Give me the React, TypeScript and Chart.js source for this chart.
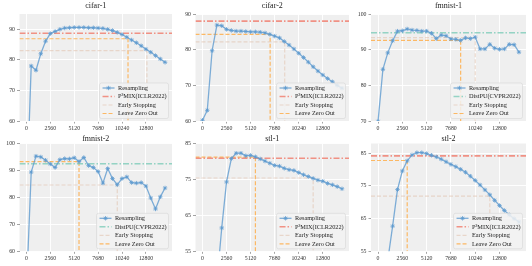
import React, { useEffect, useRef } from "react";
import { Chart, registerables } from "chart.js";
Chart.register(...registerables);

// ---------------- data ----------------
const steps = [0, 512, 1024, 1536, 2048, 2560, 3072, 3584, 4096, 4608, 5120, 5632, 6144, 6656, 7168, 7680, 8192, 8704, 9216, 9728, 10240, 10752, 11264, 11776, 12288, 12800, 13312, 13824, 14336, 14848];
const xTickValues = [0, 2560, 5120, 7680, 10240, 12800];

const cifar1 = [33, 78.0, 76.6, 82.0, 86.1, 88.6, 89.3, 90.0, 90.4, 90.5, 90.6, 90.6, 90.6, 90.5, 90.5, 90.4, 90.3, 90.0, 89.6, 89.0, 88.3, 87.4, 86.5, 85.6, 84.6, 83.5, 82.5, 81.4, 80.3, 79.2];
const cifar2 = [60.2, 63.0, 79.7, 86.9, 86.7, 85.7, 85.4, 85.2, 85.2, 85.1, 85.0, 85.0, 84.9, 84.7, 84.3, 83.8, 83.3, 82.3, 81.3, 80.2, 79.0, 77.8, 76.5, 75.2, 74.0, 72.9, 71.9, 71.0, 70.0, 69.2];
const fmnist1 = [69.9, 84.5, 89.1, 92.5, 95.2, 95.3, 95.8, 95.5, 95.4, 95.2, 95.2, 94.6, 93.1, 94.1, 93.9, 93.0, 92.9, 92.6, 93.3, 93.1, 93.5, 90.2, 90.2, 91.5, 90.4, 90.1, 90.2, 91.5, 91.4, 89.3];
const fmnist2 = [45.5, 89.4, 95.3, 95.0, 93.8, 92.4, 91.1, 94.0, 94.4, 94.3, 94.7, 93.3, 94.8, 91.8, 91.1, 89.6, 85.3, 90.7, 87.0, 84.7, 87.0, 87.6, 85.5, 85.3, 85.5, 84.2, 79.8, 75.7, 80.2, 83.5];
const stl1 = [20, 28, 36, 46.4, 61.5, 74.3, 80.8, 82.3, 82.3, 81.6, 81.7, 81.3, 80.7, 80.1, 79.5, 78.9, 78.7, 78.1, 77.7, 77.5, 76.9, 76.3, 75.8, 75.3, 74.8, 74.5, 73.9, 73.5, 73.0, 72.4];
const stl2 = [40, 46, 52.2, 62.7, 73.9, 79.6, 82.7, 84.5, 85.2, 85.2, 84.9, 84.4, 83.9, 83.2, 82.4, 81.6, 80.9, 80.1, 79.2, 78.0, 76.7, 75.3, 73.8, 72.3, 70.6, 69.0, 67.5, 66.2, 65.0, 64.0];

const titles = ["cifar-1", "cifar-2", "fmnist-1", "fmnist-2", "stl-1", "stl-2"];
const series = [cifar1, cifar2, fmnist1, fmnist2, stl1, stl2];
const baselineNames = ["P³MIX(ICLR2022)", "P³MIX(ICLR2022)", "DistPU(CVPR2022)", "DistPU(CVPR2022)", "P³MIX(ICLR2022)", "P³MIX(ICLR2022)"];
const baselineValues = [88.7, 88.0, 94.75, 92.5, 80.9, 84.2];
const earlyStopX = [12900, 8750, 10240, 9728, 11776, 11776];
const earlyStopY = [83.0, 82.2, 93.4, 84.6, 75.4, 71.9];
const leaveZeroX = [10880, 7200, 8704, 5632, 5632, 3072];
const leaveZeroY = [86.9, 84.3, 92.6, 93.3, 81.2, 82.8];
const yMins = [60, 60, 70, 60, 55, 55];
const yMaxs = [95, 90, 100, 100, 85, 88];
const yTickValues = [
  [60, 70, 80, 90],
  [60, 70, 80, 90],
  [70, 80, 90, 100],
  [60, 70, 80, 90, 100],
  [55, 65, 75, 85],
  [55, 65, 75, 85],
];
const X_MIN = -742;
const X_MAX = 15590;

// ---------------- style / layout ----------------
const FONT = '"Liberation Serif", "Times New Roman", serif';
const BG = "#efefef";
const BLUE = "rgba(95,155,208,0.8)";
const RED = "rgba(240,108,90,0.72)";
const TEAL = "rgba(110,200,178,0.7)";
const BEIGE = "rgba(225,195,175,0.6)";
const ORANGE = "rgba(255,168,60,0.78)";
const DASHDOT = [6, 2, 1.5, 2];
const DASH = [4, 2];

const cellLeft = [0, 177, 354];
const cellWidth = [177, 177, 178];
const cellTop = [0, 133];
const cellHeight = [133, 133];
const plotLeft = [19.5, 195.5, 371];
const plotRight = [175.5, 351, 526];
const plotTop = [14, 143.5];
const plotBottom = [121, 251.3];
const titleY = [6, 5.8];

function buildChart(canvas: HTMLCanvasElement, idx: number) {
  const col = idx % 3;
  const row = Math.floor(idx / 3);
  const vals = series[idx];
  const yMin = yMins[idx];
  const isP3 = baselineNames[idx].startsWith("P");
  const baseColor = isP3 ? RED : TEAL;

  const legendItems = [
    { label: "Resampling", color: BLUE, dash: [] as number[], width: 1.3, marker: true },
    { label: baselineNames[idx], color: baseColor, dash: DASHDOT, width: 1.6, marker: false },
    { label: "Early Stopping", color: BEIGE, dash: DASH, width: 1.2, marker: false },
    { label: "Leave Zero Out", color: ORANGE, dash: DASH, width: 1.2, marker: false },
  ];

  const drawStar = (c: CanvasRenderingContext2D, x: number, y: number, r: number) => {
    c.beginPath();
    c.moveTo(x - r, y); c.lineTo(x + r, y);
    c.moveTo(x, y - r); c.lineTo(x, y + r);
    const d = r * 0.707;
    c.moveTo(x - d, y - d); c.lineTo(x + d, y + d);
    c.moveTo(x - d, y + d); c.lineTo(x + d, y - d);
    c.stroke();
  };

  const bgPlugin = {
    id: "bgfill",
    beforeDraw(chart: any) {
      const a = chart.chartArea;
      const c = chart.ctx;
      c.save();
      c.fillStyle = BG;
      c.fillRect(a.left, a.top, a.right - a.left, a.bottom - a.top);
      c.restore();
    },
  };

  const titlePlugin = {
    id: "paneltitle",
    afterDraw(chart: any) {
      const a = chart.chartArea;
      const c = chart.ctx;
      c.save();
      c.font = `8px ${FONT}`;
      c.fillStyle = "#222";
      c.textAlign = "center";
      c.textBaseline = "middle";
      c.fillText(titles[idx], (a.left + a.right) / 2, titleY[row]);
      c.restore();
    },
  };

  const legendPlugin = {
    id: "cornerlegend",
    afterDatasetsDraw(chart: any) {
      const a = chart.chartArea;
      const c = chart.ctx as CanvasRenderingContext2D;
      c.save();
      c.font = `6.3px ${FONT}`;
      const textW = Math.max(...legendItems.map((it) => c.measureText(it.label).width));
      const rowH = 8.5;
      const padX = 3;
      const padR = 1.8;
      const lineLen = 12;
      const gap = 3.4;
      const w = padX + lineLen + gap + textW + padR;
      const h = legendItems.length * rowH + 1.5;
      const x = a.right - 3.5 - w;
      const y = a.bottom - 2.5 - h;
      c.beginPath();
      const r = 2;
      c.moveTo(x + r, y);
      c.lineTo(x + w - r, y);
      c.quadraticCurveTo(x + w, y, x + w, y + r);
      c.lineTo(x + w, y + h - r);
      c.quadraticCurveTo(x + w, y + h, x + w - r, y + h);
      c.lineTo(x + r, y + h);
      c.quadraticCurveTo(x, y + h, x, y + h - r);
      c.lineTo(x, y + r);
      c.quadraticCurveTo(x, y, x + r, y);
      c.closePath();
      c.fillStyle = "rgba(242,242,242,0.85)";
      c.fill();
      c.strokeStyle = "rgba(215,215,215,0.9)";
      c.lineWidth = 0.7;
      c.stroke();
      legendItems.forEach((it, k) => {
        const cy = y + 0.75 + rowH * (k + 0.5);
        c.setLineDash(it.dash);
        c.strokeStyle = it.color;
        c.lineWidth = it.width;
        c.beginPath();
        c.moveTo(x + padX, cy);
        c.lineTo(x + padX + lineLen, cy);
        c.stroke();
        c.setLineDash([]);
        if (it.marker) {
          c.lineWidth = 1;
          drawStar(c, x + padX + lineLen / 2, cy, 2.2);
        }
        c.fillStyle = "#222";
        c.textAlign = "left";
        c.textBaseline = "middle";
        c.fillText(it.label, x + padX + lineLen + gap, cy + 0.3);
      });
      c.restore();
    },
  };

  const resampling = steps.map((s, i) => ({ x: s, y: vals[i] }));
  const baseline = [
    { x: X_MIN, y: baselineValues[idx] },
    { x: X_MAX, y: baselineValues[idx] },
  ];
  const es = [
    { x: X_MIN, y: earlyStopY[idx] },
    { x: earlyStopX[idx], y: earlyStopY[idx] },
    { x: earlyStopX[idx], y: yMin },
  ];
  const lzo = [
    { x: X_MIN, y: leaveZeroY[idx] },
    { x: leaveZeroX[idx], y: leaveZeroY[idx] },
    { x: leaveZeroX[idx], y: yMin },
  ];

  const axisW = plotLeft[col] - cellLeft[col];
  const axisH = cellTop[row] + cellHeight[row] - plotBottom[row];

  return new Chart(canvas, {
    type: "line",
    data: {
      datasets: [
        {
          label: "Resampling",
          data: resampling,
          borderColor: BLUE,
          backgroundColor: BLUE,
          borderWidth: 1.3,
          pointStyle: "star",
          pointRadius: 2.2,
          pointBorderWidth: 1,
          pointBorderColor: BLUE,
          fill: false,
        },
        {
          label: baselineNames[idx],
          data: baseline,
          borderColor: baseColor,
          borderWidth: 1.6,
          borderDash: DASHDOT,
          pointRadius: 0,
          fill: false,
        },
        {
          label: "Early Stopping",
          data: es,
          borderColor: BEIGE,
          borderWidth: 1.2,
          borderDash: DASH,
          pointRadius: 0,
          fill: false,
        },
        {
          label: "Leave Zero Out",
          data: lzo,
          borderColor: ORANGE,
          borderWidth: 1.2,
          borderDash: DASH,
          pointRadius: 0,
          fill: false,
        },
      ],
    },
    options: {
      responsive: false,
      animation: false,
      devicePixelRatio: 1,
      layout: {
        padding: {
          left: 0,
          top: plotTop[row] - cellTop[row],
          right: cellLeft[col] + cellWidth[col] - plotRight[col],
          bottom: 0,
        },
      },
      plugins: {
        legend: { display: false },
        title: { display: false },
        tooltip: { enabled: false },
      },
      scales: {
        x: {
          type: "linear",
          min: X_MIN,
          max: X_MAX,
          afterBuildTicks: (s: any) => {
            s.ticks = xTickValues.map((v) => ({ value: v }));
          },
          afterFit: (s: any) => {
            s.height = axisH;
          },
          border: { display: false },
          grid: {
            color: "#ffffff",
            lineWidth: 0.9,
            drawTicks: true,
            tickLength: 2.5,
            tickColor: "#666",
            tickWidth: 0.6,
          },
          ticks: {
            autoSkip: false,
            maxRotation: 0,
            padding: 1,
            color: "#333",
            font: { family: FONT, size: 5.8 },
            callback: (v: any) => String(v),
          },
        },
        y: {
          type: "linear",
          min: yMins[idx],
          max: yMaxs[idx],
          afterBuildTicks: (s: any) => {
            s.ticks = yTickValues[idx].map((v) => ({ value: v }));
          },
          afterFit: (s: any) => {
            s.width = axisW;
          },
          border: { display: false },
          grid: {
            color: "#ffffff",
            lineWidth: 0.9,
            drawTicks: true,
            tickLength: 2.5,
            tickColor: "#666",
            tickWidth: 0.6,
          },
          ticks: {
            padding: 2,
            color: "#333",
            font: { family: FONT, size: 5.8 },
            callback: (v: any) => String(v),
          },
        },
      },
    },
    plugins: [bgPlugin, legendPlugin, titlePlugin],
  } as any);
}

function Panel({ idx }: { idx: number }) {
  const ref = useRef<HTMLCanvasElement | null>(null);
  const col = idx % 3;
  const row = Math.floor(idx / 3);
  useEffect(() => {
    if (!ref.current) return;
    const chart = buildChart(ref.current, idx);
    return () => chart.destroy();
  }, [idx]);
  return (
    <canvas
      ref={ref}
      width={cellWidth[col]}
      height={cellHeight[row]}
      style={{
        position: "absolute",
        left: cellLeft[col],
        top: cellTop[row],
        width: cellWidth[col],
        height: cellHeight[row],
      }}
    />
  );
}

export default function App() {
  return (
    <div
      style={{
        position: "fixed",
        left: 0,
        top: 0,
        width: 532,
        height: 266,
        background: "#ffffff",
        overflow: "hidden",
      }}
    >
      {titles.map((_, i) => (
        <Panel key={i} idx={i} />
      ))}
    </div>
  );
}
